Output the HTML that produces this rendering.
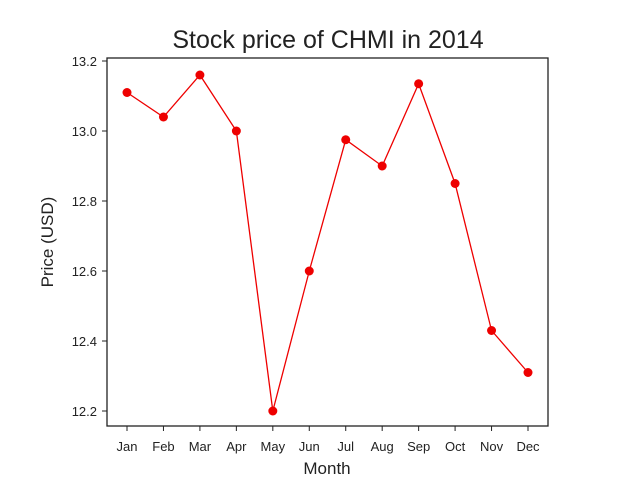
<!DOCTYPE html>
<html><head><meta charset="utf-8"><style>body{margin:0;background:#fff}svg{display:block;font-family:"Liberation Sans","DejaVu Sans",sans-serif}</style></head>
<body>
<svg id="c" width="640" height="480"></svg>
<script>
const months=["Jan","Feb","Mar","Apr","May","Jun","Jul","Aug","Sep","Oct","Nov","Dec"];
const prices=[13.11,13.04,13.16,13.00,12.20,12.60,12.975,12.90,13.135,12.85,12.43,12.31];
const yTicks=[12.2,12.4,12.6,12.8,13.0,13.2];
const NS="http://www.w3.org/2000/svg";
const svg=document.getElementById('c');
function mk(t,a,txt){const e=document.createElementNS(NS,t);for(const k in a)e.setAttribute(k,a[k]);if(txt!=null)e.textContent=txt;svg.appendChild(e);return e;}
const L=107,R=548,T=58,B=426;
const x=i=>127+i*(528-127)/11;
const y=v=>411-(v-12.2)*350;
let e;
e=mk('rect',{x:L,y:T,width:R-L,height:B-T,fill:'none',stroke:'#222','stroke-width':1.3});


yTicks.forEach(v=>{
 e=mk('line',{x1:L-5,x2:L,y1:y(v),y2:y(v),stroke:'#222'});
 
 
 e=mk('text',{x:L-10,y:y(v)+5,'text-anchor':'end','font-size':13,fill:'#222'},v.toFixed(1));
 
 
});
months.forEach((m,i)=>{
 e=mk('line',{x1:x(i),x2:x(i),y1:B,y2:B+5,stroke:'#222'});
 
 
 e=mk('text',{x:x(i),y:B+25,'text-anchor':'middle','font-size':13,fill:'#222'},m);
 
 
});
e=mk('polyline',{points:prices.map((v,i)=>x(i)+','+y(v)).join(' '),fill:'none',stroke:'#e00','stroke-width':1.3});


prices.forEach((v,i)=>{
 e=mk('circle',{cx:x(i),cy:y(v),r:4.5,fill:'#e00'});
 
 
});
e=mk('text',{x:328,y:48,'text-anchor':'middle','font-size':25,fill:'#222'},'Stock price of CHMI in 2014');


e=mk('text',{x:327,y:474,'text-anchor':'middle','font-size':17,fill:'#222'},'Month');


e=mk('text',{x:53,y:242,'text-anchor':'middle','font-size':17,fill:'#222',transform:'rotate(-90 53 242)'},'Price (USD)');


</script>
</body></html>
